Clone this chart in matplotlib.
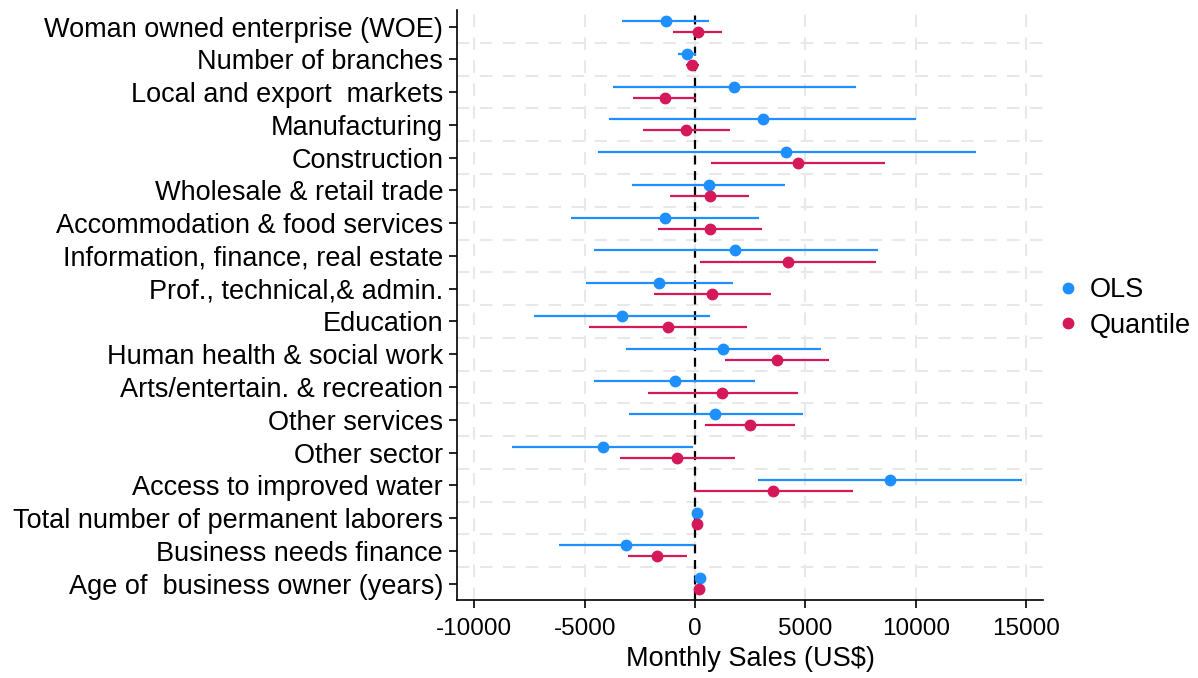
import matplotlib.pyplot as plt
import numpy as np

plt.rcParams['font.family'] = ['Liberation Sans', 'DejaVu Sans']
plt.rcParams['axes.unicode_minus'] = False

labels = [
    "Woman owned enterprise (WOE)",
    "Number of branches",
    "Local and export  markets",
    "Manufacturing",
    "Construction",
    "Wholesale & retail trade",
    "Accommodation & food services",
    "Information, finance, real estate",
    "Prof., technical,& admin.",
    "Education",
    "Human health & social work",
    "Arts/entertain. & recreation",
    "Other services",
    "Other sector",
    "Access to improved water",
    "Total number of permanent laborers",
    "Business needs finance",
    "Age of  business owner (years)",
]

ols_est = [-1330, -360, 1770, 3060, 4140, 610, -1370, 1820, -1640, -3290,
           1250, -930, 920, -4190, 8840, 90, -3110, 210]
ols_lo = [-3290, -780, -3720, -3880, -4410, -2840, -5640, -4600, -4950, -7280,
          -3150, -4590, -3010, -8290, 2870, 40, -6180, 150]
ols_hi = [610, 50, 7280, 10000, 12720, 4050, 2910, 8270, 1710, 680,
          5690, 2730, 4880, -100, 14790, 140, -50, 270]

q_est = [120, -140, -1370, -400, 4650, 660, 680, 4190, 780, -1230,
         3690, 1230, 2470, -800, 3550, 90, -1710, 160]
q_lo = [-990, -400, -2800, -2370, 730, -1140, -1660, 230, -1850, -4810,
        1350, -2150, 430, -3390, -70, 40, -3050, 110]
q_hi = [1230, 160, 50, 1570, 8600, 2460, 3030, 8180, 3460, 2370,
        6070, 4640, 4530, 1820, 7150, 140, -350, 210]

blue = '#1E8FFF'
red = '#D4185A'

fig = plt.figure(figsize=(11.98, 6.78), dpi=100)
ax = fig.add_axes([0.3815, 0.115, 0.489, 0.87])

y = np.arange(len(labels))
off = 0.17

ax.hlines(y - off, ols_lo, ols_hi, color=blue, lw=1.6, zorder=3)
ax.plot(ols_est, y - off, 'o', color=blue, ms=7.5, zorder=4, label='OLS')
ax.hlines(y + off, q_lo, q_hi, color=red, lw=1.6, zorder=3)
ax.plot(q_est, y + off, 'o', color=red, ms=7.5, zorder=4, label='Quantile')

ax.axvline(0, color='black', ls=(0, (4, 3)), lw=1.6, zorder=2)

ax.set_ylim(len(labels) - 0.5, -0.5)
ax.set_xlim(-10780, 15750)
ax.set_yticks(y)
ax.set_yticklabels(labels, fontsize=19.5)
ax.set_xticks([-10000, -5000, 0, 5000, 10000, 15000])
ax.tick_params(axis='x', labelsize=17.5, length=6, width=1.2, pad=7)
ax.tick_params(axis='y', length=6, width=1.2, pad=4)
ax.set_xlabel('Monthly Sales (US$)', fontsize=19.5, labelpad=4)

# grid: vertical at ticks, horizontal at category boundaries
for gx in [-10000, -5000, 0, 5000, 10000, 15000]:
    ax.axvline(gx, color='#e8e8e8', ls=(0, (6, 5)), lw=1.5, zorder=1)
for gy in np.arange(0.5, len(labels) - 0.5, 1):
    ax.axhline(gy, color='#e8e8e8', ls=(0, (6, 5)), lw=1.5, zorder=1)

for s in ['top', 'right']:
    ax.spines[s].set_visible(False)
ax.spines['left'].set_linewidth(1.2)
ax.spines['bottom'].set_linewidth(1.2)

ax.legend(loc='center left', bbox_to_anchor=(0.973, 0.495), frameon=False,
          fontsize=19.5, handletextpad=0.2, labelspacing=0.35,
          handlelength=1.2)

fig.savefig('out.png', dpi=100)
